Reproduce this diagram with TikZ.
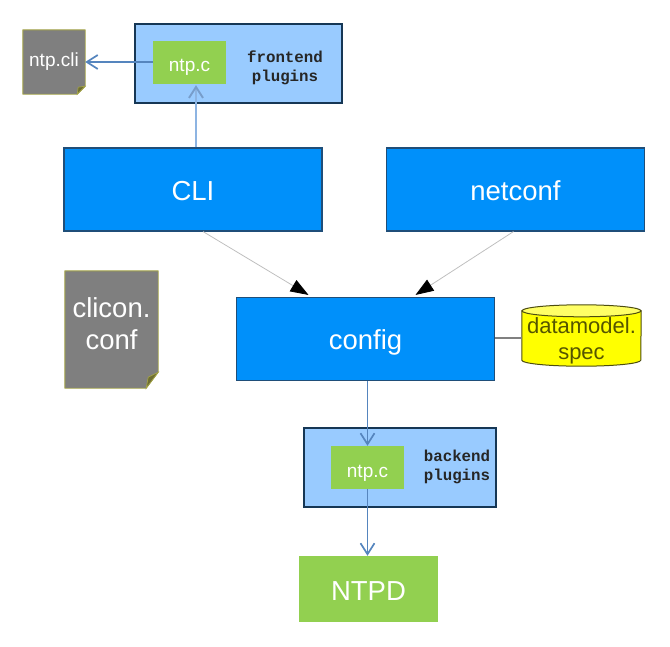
\documentclass[tikz,border=0pt]{standalone}
\usepackage{fontspec}
\setmainfont{Liberation Sans}
\setmonofont{Liberation Mono}
\usetikzlibrary{arrows.meta,calc,shapes.geometric,backgrounds}
\definecolor{bigblue}{HTML}{0090FA}
\definecolor{lightblue}{HTML}{99CBFF}
\definecolor{leaf}{HTML}{92D050}
\definecolor{edgeblue}{HTML}{1F4E79}
\definecolor{flowblue}{HTML}{5585BE}
\definecolor{flowlight}{HTML}{8DB4E2}
\definecolor{docgray}{HTML}{7F7F7F}
\definecolor{olive}{HTML}{A3A347}
\definecolor{foldc}{HTML}{6E6E32}
\definecolor{darkolive}{HTML}{555500}
\definecolor{specyellow}{HTML}{FFFF00}
\definecolor{speccap}{HTML}{FFFF66}
\definecolor{specedge}{HTML}{4D4D10}
\tikzset{
  bigbox/.style={draw=edgeblue,line width=1.1pt,fill=bigblue,text=white,minimum width=258pt,minimum height=83pt,inner sep=0pt,text depth=0pt,font=\fontsize{27.5}{30}\selectfont},
  plugbox/.style={draw=edgeblue!70!black,line width=1.1pt,fill=lightblue,inner sep=0pt},
  codebox/.style={fill=leaf,text=white,minimum width=73pt,minimum height=43pt,inner sep=0pt,text depth=0pt,font=\fontsize{19}{22}\selectfont},
  plugtext/.style={inner sep=0pt,align=center,font=\fontsize{15.8}{19.5}\selectfont\ttfamily\bfseries,text=black!85},
  docbox/.style={inner sep=0pt},
  doctext/.style={inner sep=0pt,align=center,text=white},
  docface/.style={draw=olive,line width=0.9pt,fill=docgray,line join=round},
  fold/.style={fill=foldc,draw=olive,line width=0.7pt},
  flow/.style={draw=flowblue,line width=1.2pt,-{Straight Barb[length=11pt,width=14pt,line width=1.7pt]}},
  flowpale/.style={draw=flowlight,line width=1.4pt,-{Straight Barb[length=11pt,width=14pt,line width=1.9pt,color=flowblue!80!white]}},
  feed/.style={draw=black!25,line width=0.8pt,-{Triangle[length=18pt,width=13pt,color=black]}},
  link/.style={draw=black!50,line width=1.2pt},
  store/.style={inner sep=0pt,minimum width=119pt,minimum height=61pt},
  storeface/.style={draw=specedge,line width=1pt,fill=specyellow},
  storecap/.style={draw=specedge,line width=1pt,fill=speccap},
  storetext/.style={inner sep=0pt,align=center,text=darkolive,font=\fontsize{22}{25.5}\selectfont}
}
\begin{document}
\begin{tikzpicture}[x=1pt,y=-1pt]
\useasboundingbox (0,0) rectangle (670,646);
\node[plugbox,minimum width=207pt,minimum height=79pt] (front) at (238.5,63.5) {};
\node[codebox,text height=17pt] (codef) at (189.5,62.5) {ntp.c};
\node[plugtext] (ftext) at (285,68) {frontend\\plugins};
\node[docbox,minimum width=62pt,minimum height=64pt] (clifile) at (54,62) {};
\node[doctext,text height=14pt,text depth=6pt,font=\fontsize{19}{22}\selectfont] (clitext) at (54,62) {ntp.cli};
\node[bigbox,text height=21pt] (cli) at (193,189.5) {CLI};
\node[bigbox,text height=21pt] (netconf) at (515.5,189.5) {netconf};
\node[bigbox,text height=20pt] (config) at (365.5,339) {config};
\node[docbox,minimum width=93pt,minimum height=117pt] (conffile) at (111.5,329.5) {};
\node[doctext,font=\fontsize{27.5}{31.5}\selectfont] (conftext) at (111.5,323.5) {clicon.\\conf};
\node[store] (spec) at (581.5,335.5) {};
\node[storetext] (spectext) at (581.5,341) {datamodel.\\spec};
\node[plugbox,minimum width=192pt,minimum height=79pt] (back) at (400,467.5) {};
\node[codebox,text height=19pt] (codeb) at (367.5,467.5) {ntp.c};
\node[plugtext] (btext) at (457,467) {backend\\plugins};
\node[fill=leaf,text=white,minimum width=139pt,minimum height=66pt,inner sep=0pt,text height=22pt,text depth=0pt,font=\fontsize{27.5}{30}\selectfont] (ntpd) at (368.5,589) {NTPD};
% document faces, folded corners and the datamodel drum
\begin{scope}[on background layer]
\draw[docface] (clifile.north west) -- (clifile.north east) -- ($(clifile.south east)+(0,-8)$) -- ($(clifile.south east)+(-8,0)$) -- (clifile.south west) -- cycle;
\draw[docface] (conffile.north west) -- (conffile.north east) -- ($(conffile.south east)+(0,-16)$) -- ($(conffile.south east)+(-12,0)$) -- (conffile.south west) -- cycle;
\draw[storeface] ($(spec.north west)+(0,6)$) -- ($(spec.south west)+(0,-6)$) arc[x radius=59.5pt,y radius=6pt,start angle=180,end angle=360] -- ($(spec.north east)+(0,6)$) -- cycle;
\draw[storecap] ($(spec.north)+(0,6)$) ellipse[x radius=59.5pt,y radius=6pt];
\end{scope}
\draw[fold] ($(clifile.south east)+(0,-8)$) -- ($(clifile.south east)+(-8,0)$) -- ($(clifile.south east)+(-7,-7)$) -- cycle;
\draw[fold] ($(conffile.south east)+(0,-16)$) -- ($(conffile.south east)+(-12,0)$) -- ($(conffile.south east)+(-10,-11)$) -- cycle;
% connectors
\draw[flow] (codef.west |- 0,62) -- (clifile.east |- 0,62);
\draw[flowpale] ($(cli.north)+(3,0)$) -- ($(codef.south)+(6.5,1)$);
\draw[feed] ($(cli.south)+(10,0)$) -- ($(config.north)+(-57,-2)$);
\draw[feed] ($(netconf.south)+(-2,0)$) -- ($(config.north)+(50,-2)$);
\draw[link] (config.east |- 0,338) -- (spec.west |- 0,338);
\draw[flow] (codeb.north |- config.south) -- (codeb.north);
\draw[flow] (codeb.south) -- (codeb.south |- ntpd.north);
\end{tikzpicture}
\end{document}
